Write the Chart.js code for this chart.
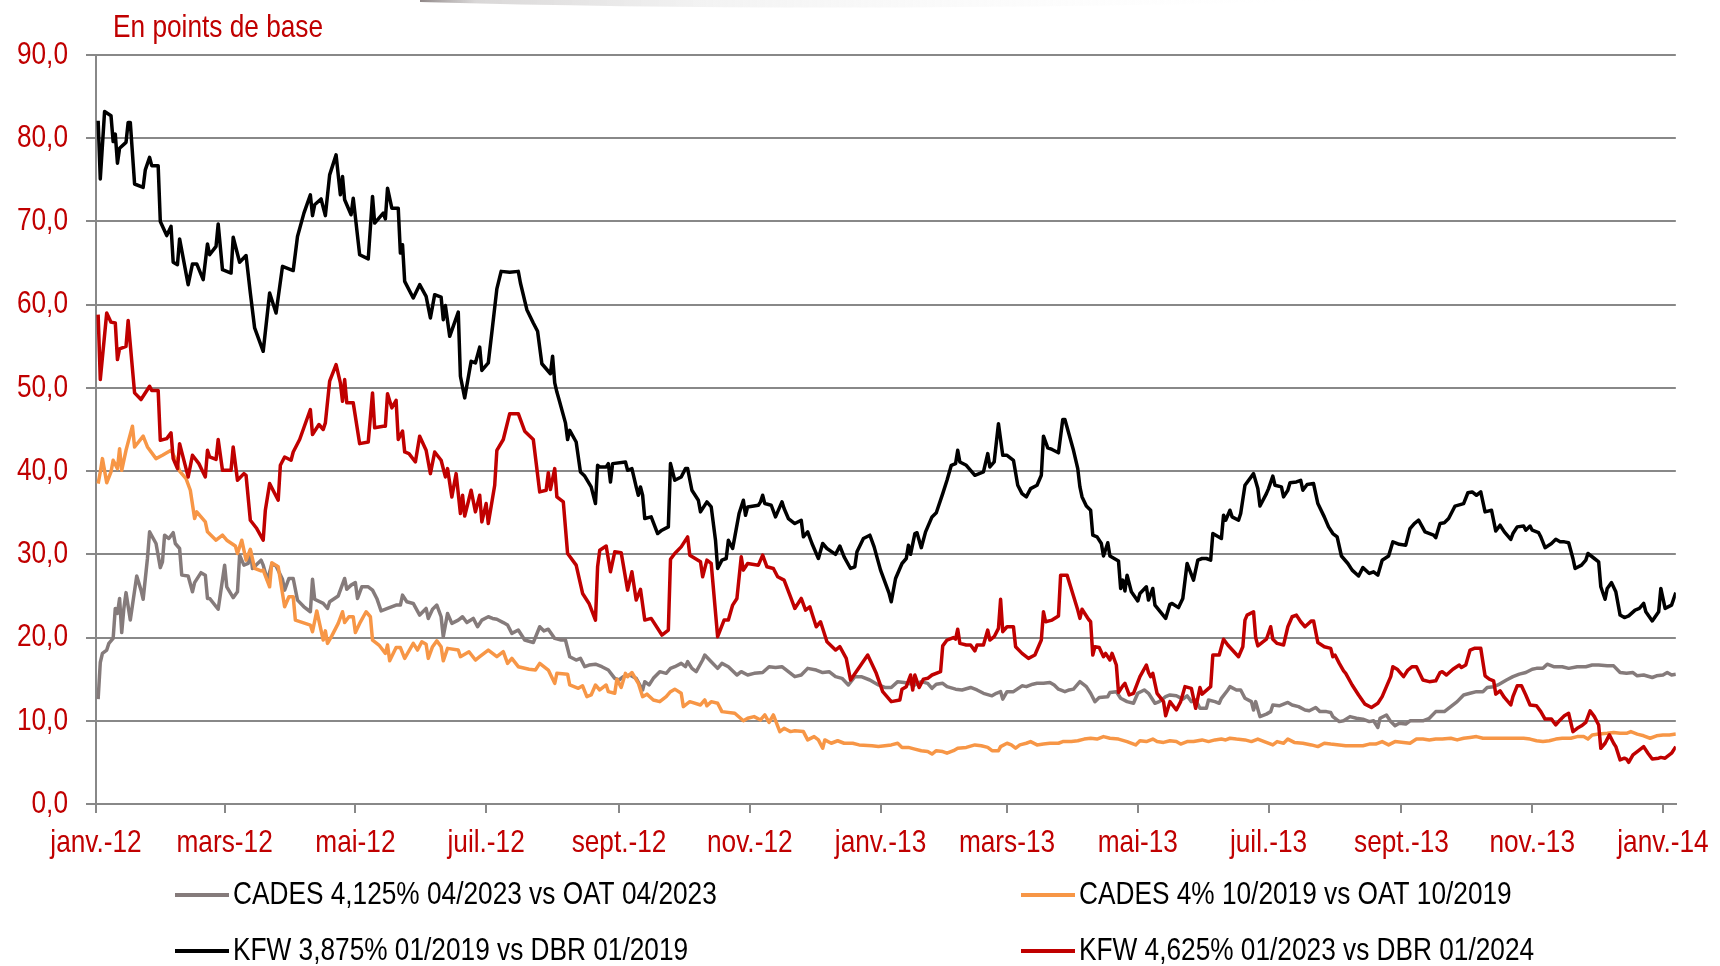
<!DOCTYPE html>
<html lang="fr">
<head>
<meta charset="utf-8">
<title>Spreads CADES / KFW</title>
<script src="https://cdn.jsdelivr.net/npm/chart.js@4.4.1/dist/chart.umd.min.js"></script>
<style>
  html, body { margin: 0; padding: 0; background: #fff; }
  #wrap { width: 1720px; height: 966px; }
</style>
</head>
<body>
<div id="wrap"><canvas id="spreadChart" width="1720" height="966"></canvas></div>
<script>
// x = days counted from 1 Jan 2012, y = spread in basis points
const tickDays = [0, 60, 121, 182, 244, 305, 366, 425, 486, 547, 609, 670, 731];
const tickLabels = ['janv.-12', 'mars-12', 'mai-12', 'juil.-12', 'sept.-12', 'nov.-12',
  'janv.-13', 'mars-13', 'mai-13', 'juil.-13', 'sept.-13', 'nov.-13', 'janv.-14'];

const seriesLabels = [
  'CADES 4,125% 04/2023 vs OAT 04/2023',
  'CADES 4% 10/2019 vs OAT 10/2019',
  'KFW 3,875% 01/2019 vs DBR 01/2019',
  'KFW 4,625% 01/2023 vs DBR 01/2024'
];

const cades2023 = [[1,12.6],[2,17.0],[3,18.1],[5,18.5],[6,19.3],[8,19.9],[9,23.5],[10,22.9],[11,24.7],[12,20.6],[13,23.5],[14,25.4],[16,22.1],[19,27.4],[21,25.7],[22,24.6],[24,29.5],[25,32.7],[28,31.3],[30,28.4],[31,29.1],[32,32.3],[34,31.9],[36,32.6],[37,31.3],[39,30.7],[40,27.5],[43,27.4],[45,25.5],[46,26.6],[49,27.8],[51,27.5],[52,24.7],[53,24.7],[57,23.4],[60,28.7],[61,26.1],[64,24.8],[66,25.5],[67,29.9],[69,28.7],[71,28.9],[72,30.5],[73,28.3],[77,29.3],[78,28.7],[80,26.9],[82,28.8],[84,28.6],[87,27.0],[88,25.7],[90,27.1],[92,27.1],[94,24.5],[97,23.7],[100,23.1],[101,27.0],[102,24.6],[106,24.1],[108,23.5],[109,24.3],[113,25.0],[116,27.1],[117,25.8],[119,26.3],[121,26.6],[122,24.7],[124,26.1],[127,26.1],[129,25.7],[131,24.7],[133,23.2],[136,23.5],[140,23.9],[142,23.9],[143,25.1],[145,24.3],[148,24.1],[151,22.7],[154,23.5],[155,22.3],[157,23.4],[159,23.9],[161,22.5],[162,20.1],[164,22.9],[166,21.7],[169,22.1],[171,22.5],[173,21.8],[176,22.3],[178,21.3],[180,22.1],[183,22.5],[185,22.3],[187,22.2],[190,21.8],[192,21.5],[194,20.5],[197,20.9],[200,19.7],[204,19.4],[207,21.3],[209,20.8],[211,21.0],[214,19.9],[217,19.7],[219,19.7],[221,17.7],[224,17.3],[226,17.5],[228,16.5],[230,16.7],[233,16.8],[236,16.5],[239,16.1],[242,15.1],[244,14.9],[246,15.3],[249,15.5],[252,15.1],[255,13.7],[256,14.7],[258,14.3],[260,15.1],[263,15.9],[266,15.7],[268,16.3],[270,16.5],[273,16.9],[275,16.5],[276,17.1],[278,16.3],[280,15.9],[283,17.3],[284,17.9],[287,17.1],[290,16.3],[292,16.9],[295,16.5],[299,15.5],[301,15.9],[304,15.5],[307,15.7],[311,15.8],[314,16.5],[317,16.4],[320,16.5],[323,15.9],[326,15.3],[329,15.5],[332,16.3],[336,16.1],[339,15.8],[342,15.9],[345,15.3],[348,15.1],[351,14.3],[354,15.3],[357,15.3],[361,14.9],[365,14.3],[368,14.0],[371,14.0],[374,14.7],[377,14.6],[379,14.5],[382,14.3],[385,14.7],[388,14.5],[390,13.9],[392,14.4],[395,14.5],[397,14.1],[401,13.8],[404,13.7],[408,14.0],[411,13.7],[414,13.3],[418,13.0],[420,13.3],[422,13.5],[423,12.6],[425,13.5],[428,13.5],[432,14.2],[434,14.1],[437,14.4],[439,14.5],[442,14.5],[445,14.6],[447,14.3],[449,13.8],[452,13.5],[454,13.7],[456,13.8],[459,14.7],[462,14.1],[464,13.3],[466,12.3],[468,12.8],[472,12.9],[473,13.4],[476,13.5],[478,12.7],[481,12.3],[484,12.1],[486,13.3],[489,13.7],[491,13.3],[494,12.1],[496,12.3],[499,12.9],[501,13.1],[504,13.0],[507,12.6],[509,13.0],[511,12.3],[513,12.5],[515,11.5],[518,11.5],[519,12.5],[522,12.3],[524,12.1],[525,12.7],[528,13.7],[529,14.1],[532,13.7],[534,13.7],[536,12.7],[539,12.3],[540,11.3],[541,12.3],[543,10.5],[546,10.8],[548,11.1],[549,11.9],[552,11.8],[556,12.2],[558,11.9],[561,11.7],[564,11.3],[566,11.2],[569,11.6],[571,11.1],[574,11.1],[576,11.0],[577,10.5],[580,9.9],[582,10.0],[585,10.5],[588,10.3],[591,10.2],[594,9.9],[596,10.0],[598,9.2],[599,10.3],[602,10.7],[604,9.9],[606,9.4],[608,9.7],[611,9.6],[613,10.0],[616,10.0],[619,10.0],[622,10.3],[625,11.1],[629,11.1],[632,11.7],[635,12.3],[638,13.1],[641,13.3],[644,13.5],[647,13.5],[649,14.0],[652,14.1],[654,14.3],[658,14.9],[661,15.3],[664,15.6],[667,15.8],[670,16.2],[672,16.3],[675,16.3],[677,16.8],[680,16.5],[684,16.5],[687,16.3],[691,16.5],[695,16.5],[698,16.7],[701,16.7],[705,16.6],[708,16.6],[711,15.8],[714,15.7],[717,15.8],[719,15.4],[722,15.5],[726,15.2],[728,15.4],[731,15.5],[733,15.8],[735,15.5],[737,15.6]];

const cades2019 = [[1,38.5],[2,39.9],[3,41.5],[5,38.6],[7,39.9],[8,41.3],[10,40.3],[11,42.7],[12,40.1],[14,42.5],[17,45.4],[18,42.9],[22,44.2],[24,42.9],[28,41.5],[31,41.9],[35,42.5],[37,41.5],[39,40.0],[42,39.1],[44,37.7],[46,34.3],[47,35.1],[51,33.9],[52,32.7],[56,31.7],[59,32.3],[61,31.7],[65,31.0],[66,30.1],[68,31.7],[70,29.3],[72,30.6],[74,28.3],[77,28.0],[78,28.1],[81,26.1],[82,29.0],[85,28.5],[88,23.7],[90,24.9],[92,24.9],[93,22.1],[100,21.5],[101,20.7],[103,23.2],[106,19.7],[107,20.8],[108,19.3],[110,20.2],[113,21.7],[115,23.1],[116,21.8],[118,22.5],[120,22.5],[121,20.6],[123,21.7],[126,23.1],[128,22.5],[129,19.7],[132,19.1],[135,18.1],[136,19.1],[137,17.2],[140,18.8],[142,18.8],[144,17.5],[148,19.3],[150,18.5],[152,19.5],[154,19.2],[155,17.5],[157,18.9],[159,19.6],[161,18.9],[162,17.2],[164,18.7],[169,18.5],[170,17.7],[174,18.3],[177,17.3],[179,17.7],[183,18.5],[187,17.7],[190,18.3],[192,16.9],[194,17.5],[197,16.5],[202,16.2],[205,16.1],[207,16.9],[211,16.1],[214,14.5],[215,15.7],[220,15.6],[221,14.3],[225,13.9],[227,14.2],[229,12.9],[231,13.1],[233,14.3],[235,13.7],[238,14.3],[239,13.5],[242,13.3],[243,15.0],[245,14.0],[247,15.7],[248,15.3],[250,15.8],[253,14.5],[255,12.9],[257,13.2],[260,12.5],[263,12.3],[266,12.9],[268,13.5],[270,13.8],[273,13.3],[274,11.7],[277,12.3],[282,11.9],[284,12.5],[285,11.8],[287,12.3],[290,12.1],[292,11.1],[298,10.9],[302,10.0],[304,10.3],[307,10.5],[310,10.1],[312,10.7],[314,9.8],[316,10.7],[319,8.7],[321,9.1],[324,8.7],[326,8.8],[330,8.7],[332,7.7],[335,8.1],[337,7.7],[339,6.7],[340,7.7],[343,7.3],[346,7.6],[349,7.3],[353,7.3],[356,7.1],[362,7.0],[365,6.9],[371,7.1],[374,7.3],[376,6.8],[379,6.8],[382,6.6],[385,6.4],[388,6.3],[390,6.0],[392,6.4],[395,6.3],[397,6.1],[400,6.4],[402,6.7],[406,6.8],[410,7.1],[413,7.0],[416,6.8],[418,6.4],[421,6.4],[422,6.9],[425,7.3],[427,7.1],[429,6.7],[431,7.1],[434,7.3],[436,7.5],[439,7.1],[442,7.2],[445,7.3],[449,7.3],[451,7.5],[455,7.5],[458,7.6],[461,7.8],[464,7.9],[467,7.8],[470,8.1],[473,7.9],[477,7.8],[481,7.5],[485,7.1],[487,7.6],[490,7.5],[493,7.8],[495,7.5],[498,7.4],[501,7.6],[504,7.5],[506,7.2],[509,7.5],[512,7.5],[516,7.7],[519,7.5],[522,7.7],[525,7.8],[527,7.7],[529,7.9],[532,7.8],[536,7.7],[539,7.5],[542,7.8],[545,7.5],[549,7.1],[551,7.5],[554,7.3],[556,7.8],[559,7.4],[563,7.3],[567,7.1],[570,6.9],[573,7.3],[576,7.2],[580,7.1],[583,7.0],[587,7.0],[591,7.0],[594,7.2],[597,7.2],[600,7.5],[603,7.1],[606,7.5],[610,7.4],[613,7.3],[616,7.8],[619,7.8],[622,7.7],[625,7.8],[628,7.8],[632,7.9],[635,7.7],[638,7.9],[641,8.0],[644,8.1],[647,7.9],[650,7.9],[653,7.9],[656,7.9],[660,7.9],[663,7.9],[666,7.9],[669,7.8],[672,7.6],[675,7.5],[678,7.6],[681,7.8],[684,7.9],[688,7.9],[691,8.1],[694,8.1],[696,7.8],[698,8.3],[701,8.4],[705,8.5],[708,8.6],[711,8.5],[714,8.5],[716,8.7],[719,8.4],[722,8.2],[725,7.9],[728,8.2],[731,8.3],[734,8.3],[737,8.4]];

const kfw2019 = [[1,82.1],[2,75.1],[4,83.2],[7,82.7],[8,79.6],[9,80.5],[10,77.0],[11,78.8],[14,79.5],[15,81.9],[16,81.9],[18,74.5],[22,74.1],[23,76.2],[25,77.7],[26,76.7],[29,76.7],[30,70.0],[33,68.3],[35,69.4],[36,65.1],[38,64.8],[39,67.9],[43,62.4],[45,64.9],[47,64.9],[50,63.0],[52,67.3],[53,66.0],[56,67.0],[57,69.7],[59,64.2],[63,63.8],[64,68.1],[67,65.1],[70,65.9],[72,61.4],[74,57.2],[78,54.4],[81,61.4],[84,59.0],[87,64.6],[92,64.1],[94,68.2],[97,71.0],[100,73.2],[101,70.7],[102,72.0],[105,72.7],[107,70.7],[109,75.6],[112,78.0],[114,73.2],[115,75.4],[116,72.6],[119,70.8],[120,72.8],[123,66.0],[127,65.5],[129,73.0],[130,69.8],[134,71.0],[135,70.3],[136,74.0],[138,71.6],[141,71.6],[142,66.2],[143,67.2],[144,62.8],[148,60.8],[151,62.4],[154,61.0],[156,58.4],[158,61.2],[161,60.9],[162,58.2],[163,59.9],[165,56.2],[169,59.1],[170,51.4],[172,48.8],[175,53.2],[177,53.0],[179,54.9],[180,52.1],[183,53.0],[185,57.4],[187,61.9],[189,64.0],[193,63.9],[197,64.0],[198,62.6],[201,59.4],[204,57.8],[206,56.8],[208,52.9],[212,51.7],[213,53.8],[214,50.6],[215,49.5],[216,48.6],[219,45.8],[220,43.8],[221,44.9],[224,43.5],[226,39.9],[228,39.4],[231,38.1],[233,36.1],[234,40.7],[235,40.5],[238,40.5],[239,40.9],[240,38.7],[241,40.9],[247,41.1],[248,40.1],[250,40.3],[252,38.1],[253,37.1],[254,38.1],[255,37.1],[256,34.3],[259,34.5],[262,32.5],[264,32.9],[267,33.3],[268,40.9],[270,38.9],[273,39.3],[275,40.3],[276,40.3],[278,37.7],[281,36.5],[282,35.1],[285,36.3],[287,35.7],[289,31.7],[290,28.3],[292,29.3],[294,29.5],[295,31.7],[297,30.7],[298,32.1],[300,34.9],[302,36.5],[303,34.7],[304,35.7],[309,35.9],[310,36.3],[311,37.1],[312,36.1],[315,35.9],[317,34.5],[318,35.1],[320,36.3],[321,35.5],[323,34.3],[326,33.7],[329,34.1],[330,32.1],[332,32.7],[334,31.3],[337,29.5],[339,31.3],[341,30.7],[345,30.0],[347,31.0],[349,29.7],[352,28.3],[354,28.5],[355,30.3],[358,31.9],[361,32.3],[363,30.9],[366,28.1],[370,25.3],[371,24.3],[373,27.1],[376,28.9],[378,29.5],[379,31.1],[380,30.0],[382,32.5],[383,32.6],[385,30.8],[387,32.7],[388,33.3],[390,34.5],[392,35.0],[395,37.3],[397,38.9],[399,40.7],[401,40.9],[402,42.5],[403,41.1],[406,40.7],[408,40.1],[410,39.5],[414,39.9],[416,42.1],[417,40.5],[419,41.1],[421,45.7],[423,41.9],[425,41.9],[428,41.3],[430,38.3],[432,37.3],[434,36.9],[436,37.9],[439,38.3],[441,39.5],[442,44.2],[444,42.8],[446,42.6],[449,42.2],[451,46.2],[452,46.2],[456,42.5],[458,40.3],[459,38.1],[460,36.9],[462,35.8],[464,35.3],[465,32.3],[467,32.1],[469,31.3],[470,29.8],[472,31.4],[473,29.8],[477,29.2],[478,25.9],[479,26.9],[480,25.6],[481,27.5],[483,25.5],[486,24.4],[487,25.3],[490,26.1],[491,24.5],[493,25.9],[494,23.9],[499,22.3],[501,24.0],[502,24.1],[505,23.6],[507,24.7],[509,28.9],[512,26.9],[514,29.3],[516,29.5],[518,29.5],[520,29.3],[521,32.5],[525,31.9],[526,34.7],[527,34.1],[529,35.3],[530,34.5],[533,34.1],[534,34.9],[536,38.3],[540,39.7],[542,37.9],[543,35.8],[546,37.3],[547,37.9],[549,39.4],[550,38.3],[553,38.1],[554,36.9],[556,37.7],[557,38.6],[560,38.7],[562,38.9],[563,37.7],[565,38.4],[568,38.5],[570,36.1],[573,34.5],[575,33.3],[577,32.5],[579,32.1],[581,29.8],[584,28.9],[586,28.1],[589,27.4],[591,28.4],[594,27.7],[596,27.9],[598,27.5],[600,29.3],[603,29.8],[605,31.5],[608,31.2],[611,31.1],[613,33.1],[615,33.7],[617,34.1],[620,32.7],[624,32.3],[625,32.0],[627,33.7],[629,33.8],[631,34.3],[634,35.8],[638,36.1],[640,37.4],[642,37.5],[644,37.1],[646,37.5],[648,35.1],[651,35.3],[653,32.8],[655,33.5],[657,32.7],[660,31.8],[661,32.5],[663,33.3],[666,33.4],[667,32.9],[669,33.4],[670,32.9],[673,32.6],[674,32.1],[676,30.8],[679,31.3],[681,31.8],[683,31.5],[685,31.5],[687,31.4],[689,29.5],[690,28.3],[693,28.7],[695,29.3],[696,30.1],[699,29.5],[701,29.1],[702,26.1],[704,24.6],[705,25.9],[707,26.6],[709,25.5],[711,22.7],[713,22.4],[715,22.6],[718,23.3],[720,23.5],[722,24.1],[723,23.1],[726,22.0],[729,23.1],[730,25.9],[732,23.5],[735,23.9],[737,25.4]];

const kfw2023 = [[1,58.8],[2,51.0],[5,59.0],[7,57.9],[9,57.8],[10,53.4],[11,54.7],[14,55.0],[15,58.1],[18,49.4],[21,48.6],[25,50.2],[26,49.7],[29,49.7],[30,43.7],[33,43.9],[35,44.6],[36,41.5],[38,40.3],[39,43.3],[43,39.3],[45,41.9],[48,40.9],[51,39.3],[52,42.5],[53,41.7],[56,41.4],[57,43.8],[59,40.1],[63,40.1],[64,42.9],[66,38.9],[69,39.7],[70,39.5],[72,34.1],[75,33.1],[78,31.7],[79,35.3],[81,38.5],[85,36.5],[86,40.7],[88,41.7],[91,41.3],[92,42.3],[95,43.8],[100,47.4],[101,44.4],[104,45.6],[106,45.0],[107,45.8],[109,50.8],[112,52.8],[114,50.6],[115,48.4],[116,51.0],[117,48.2],[120,48.2],[123,43.3],[127,43.5],[129,49.4],[130,45.2],[134,45.4],[135,45.4],[136,49.3],[138,47.6],[140,48.5],[141,43.8],[143,44.8],[144,42.3],[146,42.1],[149,41.1],[151,44.2],[154,42.5],[156,39.7],[158,42.3],[161,41.3],[163,39.3],[164,40.3],[166,36.9],[168,39.7],[170,34.9],[171,37.1],[172,34.6],[175,37.7],[177,35.1],[179,37.1],[180,33.9],[182,36.1],[183,33.7],[186,38.3],[187,42.5],[190,43.8],[193,46.9],[197,46.9],[200,44.8],[204,43.8],[207,37.5],[210,37.7],[211,39.8],[212,37.8],[214,40.3],[215,36.9],[218,36.3],[220,30.1],[224,28.7],[227,25.3],[230,24.1],[233,22.1],[234,28.5],[235,30.5],[238,31.0],[240,27.9],[242,30.3],[245,30.2],[248,25.7],[250,27.9],[252,24.5],[254,25.8],[256,22.1],[259,22.3],[264,20.3],[267,20.9],[268,29.4],[270,30.1],[273,30.9],[276,32.1],[277,29.9],[282,29.1],[283,27.3],[285,29.3],[287,28.9],[290,20.1],[293,22.1],[295,22.1],[297,23.9],[299,24.7],[301,29.7],[302,28.1],[304,28.9],[309,28.7],[311,29.9],[313,28.5],[316,28.3],[318,27.3],[321,26.9],[324,24.9],[326,23.5],[329,24.7],[331,23.3],[333,23.7],[336,21.3],[338,21.9],[341,19.5],[345,18.5],[347,18.9],[350,17.5],[352,14.9],[360,17.9],[364,15.7],[367,13.5],[371,12.3],[375,12.5],[376,13.8],[378,14.1],[380,15.5],[381,13.7],[382,15.5],[384,14.0],[386,15.0],[388,15.1],[390,15.5],[394,15.9],[395,19.0],[397,19.7],[400,20.0],[401,19.8],[402,21.0],[403,19.3],[406,19.1],[408,19.1],[410,18.4],[411,19.1],[414,19.1],[416,20.9],[417,19.7],[419,20.1],[421,21.1],[422,24.6],[423,20.7],[425,21.3],[428,21.3],[429,18.9],[432,18.1],[435,17.5],[438,17.9],[441,19.7],[442,23.1],[443,21.9],[446,22.1],[449,22.6],[450,27.5],[453,27.5],[456,25.0],[458,23.3],[459,22.3],[460,23.4],[463,22.2],[464,21.9],[465,17.9],[466,18.9],[468,18.8],[470,17.7],[471,18.1],[473,17.3],[474,18.1],[476,16.7],[477,13.4],[479,14.2],[480,14.5],[482,13.1],[484,13.3],[487,15.3],[490,16.7],[491,15.8],[492,15.3],[493,15.7],[495,13.3],[498,12.3],[499,10.6],[501,12.3],[504,11.3],[506,12.3],[508,14.1],[511,13.9],[513,11.5],[515,14.0],[516,13.2],[520,14.1],[521,17.9],[524,17.9],[526,19.8],[528,19.1],[533,17.7],[535,18.9],[536,22.1],[537,22.7],[540,23.1],[541,20.0],[542,19.0],[546,19.8],[548,21.3],[549,19.8],[551,19.3],[554,19.1],[556,21.3],[558,22.5],[560,22.7],[562,21.9],[564,21.3],[567,22.0],[568,22.0],[570,19.4],[573,18.9],[576,18.7],[577,17.7],[578,17.9],[580,16.9],[582,16.0],[583,15.7],[586,14.3],[589,13.1],[592,12.0],[595,11.6],[598,12.1],[600,12.9],[602,14.1],[604,15.3],[605,16.5],[607,16.2],[610,15.3],[612,16.1],[614,16.5],[616,16.5],[619,14.9],[622,14.7],[625,14.8],[627,15.8],[628,15.9],[630,15.5],[633,16.2],[636,16.7],[637,16.4],[639,16.7],[641,18.5],[643,18.7],[646,18.7],[648,15.4],[650,15.0],[652,14.8],[653,13.2],[655,13.6],[657,12.8],[660,11.9],[661,12.9],[663,14.2],[665,14.2],[667,13.1],[669,11.9],[672,11.8],[674,11.1],[676,10.2],[679,10.2],[681,9.5],[683,10.1],[685,10.6],[687,10.9],[689,8.7],[691,9.1],[693,9.4],[695,9.8],[697,11.2],[699,10.5],[701,9.5],[702,6.7],[704,7.3],[706,8.3],[708,7.3],[709,6.9],[711,5.3],[713,5.5],[714,5.4],[715,5.0],[717,5.9],[719,6.3],[722,6.9],[724,6.1],[726,5.4],[729,5.5],[730,5.6],[732,5.5],[735,6.1],[737,6.9]];

const RED = '#C00000';
const GRID = '#888888';
const FONT = "'Liberation Sans', Arial, sans-serif";
const NARROW = 0.82; // no Arial Narrow here: squeeze Liberation Sans instead

Chart.defaults.font.family = FONT;

const canvas = document.getElementById('spreadChart');
const g = canvas.getContext('2d');
const rawFill = g.fillText.bind(g);
const rawMeasure = g.measureText.bind(g);
g.fillText = function (text, x, y) {
  this.save();
  this.translate(x, y);
  this.scale(NARROW, 1);
  rawFill(text, 0, 0);
  this.restore();
};
g.measureText = function (text) {
  const m = rawMeasure(text);
  return {
    width: m.width * NARROW,
    actualBoundingBoxAscent: m.actualBoundingBoxAscent,
    actualBoundingBoxDescent: m.actualBoundingBoxDescent,
    actualBoundingBoxLeft: m.actualBoundingBoxLeft * NARROW,
    actualBoundingBoxRight: m.actualBoundingBoxRight * NARROW
  };
};

// title above the plot, legend as a 2 x 2 grid under the axis, faint shadow at the top edge
const frameText = {
  id: 'frameText',
  beforeDraw(chart) {
    const c = chart.ctx;
    c.save();
    const grad = c.createLinearGradient(420, 0, 1360, 0);
    grad.addColorStop(0, 'rgba(115,105,105,0.8)');
    grad.addColorStop(0.06, 'rgba(160,155,155,0.4)');
    grad.addColorStop(0.3, 'rgba(220,220,220,0.35)');
    grad.addColorStop(1, 'rgba(255,255,255,0)');
    c.fillStyle = grad;
    c.beginPath();
    c.moveTo(420, 0);
    c.lineTo(1360, 0);
    c.quadraticCurveTo(850, 14, 420, 2);
    c.closePath();
    c.fill();
    c.restore();
  },
  afterDraw(chart, args, opts) {
    const c = chart.ctx;
    const area = chart.chartArea;
    c.save();
    c.textAlign = 'left';
    c.textBaseline = 'middle';
    c.font = '32px ' + FONT;
    c.fillStyle = RED;
    c.fillText(opts.title, area.left + 17, 28);

    chart.data.datasets.forEach((ds, i) => {
      const x = opts.colX[i % 2];
      const y = opts.rowY[Math.floor(i / 2)];
      c.strokeStyle = ds.borderColor;
      c.lineWidth = 4;
      c.beginPath();
      c.moveTo(x, y);
      c.lineTo(x + 54, y);
      c.stroke();
      c.fillStyle = '#000';
      c.fillText(ds.label, x + 58, y);
    });
    c.restore();
  }
};

function lineSet(label, data, color, order) {
  return {
    label: label,
    data: data,
    borderColor: color,
    backgroundColor: color,
    borderWidth: 3.5,
    pointRadius: 0,
    tension: 0,
    fill: false,
    borderJoinStyle: 'round',
    order: order
  };
}

new Chart(canvas, {
  type: 'line',
  data: {
    datasets: [
      lineSet(seriesLabels[0], cades2023, '#857B7B', 4),
      lineSet(seriesLabels[1], cades2019, '#F79646', 3),
      lineSet(seriesLabels[2], kfw2019, '#000000', 2),
      lineSet(seriesLabels[3], kfw2023, RED, 1)
    ]
  },
  options: {
    responsive: false,
    devicePixelRatio: 1,
    animation: false,
    layout: { padding: { top: 55, right: 40, left: 0, bottom: 0 } },
    plugins: {
      legend: { display: false },
      tooltip: { enabled: false },
      frameText: {
        title: 'En points de base',
        colX: [175, 1021],
        rowY: [895, 951]
      }
    },
    scales: {
      x: {
        type: 'linear',
        min: 0,
        max: 737,
        afterBuildTicks: (axis) => { axis.ticks = tickDays.map(v => ({ value: v })); },
        afterFit: (axis) => { axis.height = 162; },
        ticks: {
          autoSkip: false,
          maxRotation: 0,
          padding: 11,
          color: RED,
          font: { size: 32 },
          callback: (v) => tickLabels[tickDays.indexOf(v)]
        },
        grid: { drawOnChartArea: false, drawTicks: true, tickLength: 9, color: GRID, lineWidth: 2 },
        border: { color: GRID, width: 2 }
      },
      y: {
        min: 0,
        max: 90,
        afterFit: (axis) => { axis.width = 96; },
        ticks: {
          stepSize: 10,
          padding: 18,
          color: RED,
          font: { size: 32 },
          callback: (v) => v.toFixed(1).replace('.', ',')
        },
        grid: { color: GRID, lineWidth: 2, tickLength: 10 },
        border: { color: GRID, width: 2 }
      }
    }
  },
  plugins: [frameText]
});
</script>
</body>
</html>
